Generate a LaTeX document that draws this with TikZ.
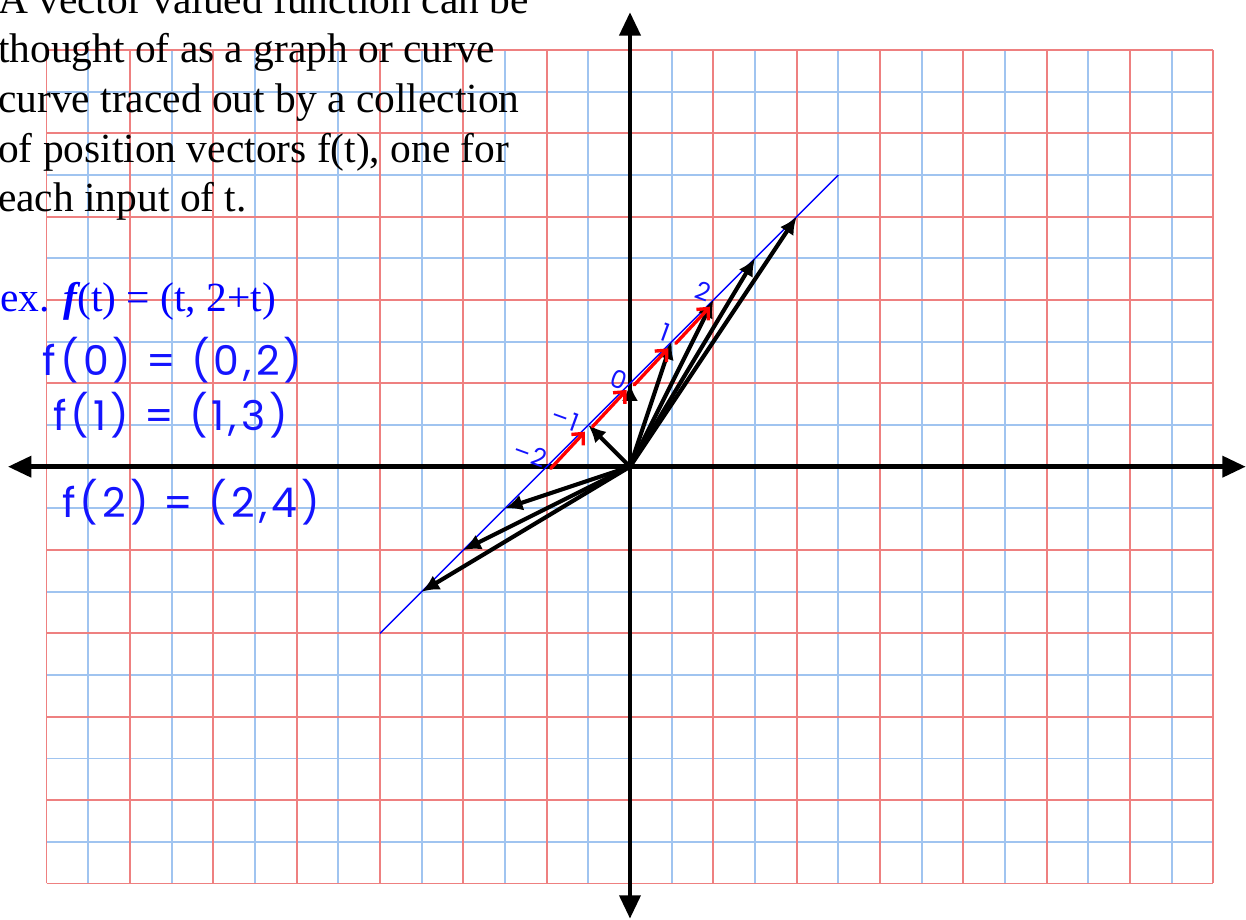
\documentclass[tikz,border=0pt]{standalone}
\usepackage{fontspec}
\setmainfont{Liberation Serif}
\newfontfamily\handfont[LetterSpace=10]{Poppins}
\usetikzlibrary{arrows.meta, positioning}
\definecolor{gridred}{RGB}{238,128,128}
\definecolor{gridblue}{RGB}{160,196,240}
\definecolor{inkblue}{RGB}{20,20,255}

\begin{document}
\begin{tikzpicture}[
    gridminor/.style={
        draw=gridblue,
        line width=1.2pt
    },
    gridmajor/.style={
        draw=gridred,
        line width=1.2pt
    },
    axis/.style={
        <->,
        >={Triangle[length=16pt,width=14pt]},
        line width=3.4pt,
        draw=black
    },
    vec/.style={
        ->,
        >={Latex[length=12pt,width=11pt]},
        line width=2.8pt,
        draw=black
    },
    trace/.style={
        ->,
        >={Straight Barb[length=6pt,width=11pt]},
        line width=2.3pt,
        line cap=round,
        draw=red
    },
    intro/.style={
        anchor=base west,
        inner sep=0pt,
        font=\fontsize{28.3pt}{34pt}\selectfont
    },
    hand/.style={
        anchor=west,
        inner sep=0pt,
        text=inkblue,
        font=\handfont\fontsize{28pt}{32pt}\selectfont
    },
    tlabel/.style={
        inner sep=0pt,
        rotate=-20,
        text=inkblue,
        font=\handfont\fontsize{17pt}{19pt}\selectfont
    }
]
\useasboundingbox (-15.119,-10.878) rectangle (14.783,11.2);

% Grid
\foreach \x in {-13,-11,...,13}
    \draw [gridminor] (\x,-10) -- (\x,10);
\foreach \y in {-9,-7,...,9}
    \draw [gridminor] (-14,\y) -- (14,\y);
\foreach \x in {-14,-12,...,14}
    \draw [gridmajor] (\x,-10) -- (\x,10);
\foreach \y in {-10,-8,...,10}
    \draw [gridmajor] (-14,\y) -- (14,\y);

% Text
\foreach \txt [count=\i] in {A vector valued function can be, thought of as a graph or curve, curve traced out by a collection, {of position vectors f(t), one for}, each input of t.}
    \node (intro\i) [intro] at (-15.17,{10.876-1.188*(\i-1)}) {\txt};
\node (example) [intro, text=blue] at (-15.12,3.72) {ex. {\bfseries\itshape f}(t) = (t, 2+t)};
\node (hand0) [hand] at (-14.1,2.56) {f(0) = (0,2)};
\node (hand1) [hand] at (-13.85,1.24) {f(1) = (1,3)};
\node (hand2) [hand] at (-13.63,-0.85) {f(2) = (2,4)};

% Axes
\coordinate (O) at (0,0);
\coordinate (xmin) at (-14.93,0);
\coordinate (xmax) at (14.78,0);
\coordinate (ymin) at (0,-10.85);
\coordinate (ymax) at (0,10.91);
\draw [axis] (xmin) -- (xmax);
\draw [axis] (ymin) -- (ymax);

% Line y = x + 2
\coordinate (lineA) at (-6,-4);
\coordinate (lineB) at (5,7);
\draw [blue, line width=1pt] (lineA) -- (lineB);

% Position vectors
\foreach \t in {-5,...,4}
    \coordinate (ft\t) at (\t,{2+\t});
\foreach \t in {-5,-4,-3,-1,0,1,2,3,4}
    \draw [vec] (O) -- (ft\t);

% Trace along the curve
\foreach \a/\b in {-2/-1,-1/0,0/1,1/2}
    \draw [trace] ([shift={(0.1,-0.04)}]ft\a) -- ([shift={(-0.08,-0.16)}]ft\b);
\foreach \t/\px/\py/\txt in {-2/-2.4/0.3/{–2},-1/-1.55/1.15/{–1},0/-0.26/2.08/0,1/0.84/3.22/1,2/1.76/4.22/2}
    \node (lab\t) [tlabel] at (\px,\py) {\txt};

\end{tikzpicture}
\end{document}
